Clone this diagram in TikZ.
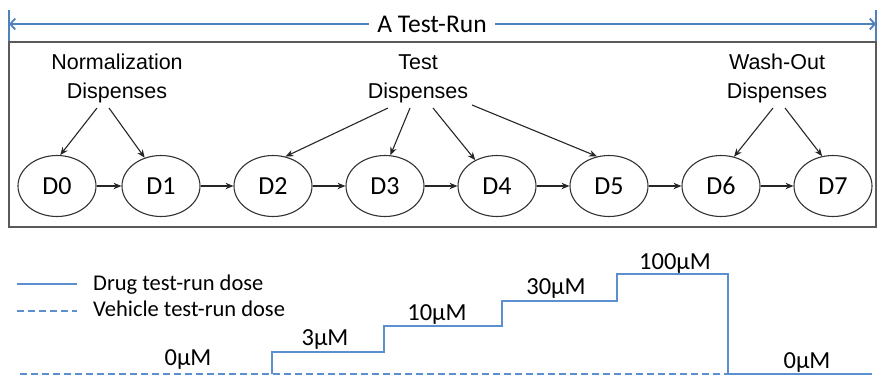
\documentclass[tikz,border=0pt]{standalone}
\usepackage{fontspec}
\setmainfont{Carlito}
\newfontfamily\arialf{Liberation Sans}
\usetikzlibrary{shapes.geometric,arrows.meta}
\definecolor{runblue}{HTML}{4F81BD}
\definecolor{doseblue}{HTML}{5B8FD0}
\definecolor{boxgray}{HTML}{5A5A5A}
\begin{document}
\begin{tikzpicture}[x=1pt,y=-1pt,
  dnode/.style={ellipse,draw=black!80,line width=1.1pt,minimum width=78pt,minimum height=61pt,inner sep=0pt,font=\fontsize{26}{26}\selectfont},
  grp/.style={inner sep=0pt,anchor=base,font=\arialf\fontsize{21.5}{21.5}\selectfont},
  flow/.style={-{Stealth[length=8pt,width=6.5pt]},line width=1.1pt,black!85},
  runline/.style={runblue,line width=1.8pt},
  runarrow/.style={runline,-{Straight Barb[length=5pt,width=11pt,line width=1.8pt]}},
  dosetxt/.style={inner sep=0pt,anchor=base,font=\fontsize{24.5}{24.5}\selectfont},
  legtxt/.style={inner sep=0pt,anchor=base west,font=\fontsize{22.5}{22.5}\selectfont},
  drug/.style={doseblue,line width=1.6pt},
  vehicle/.style={doseblue,line width=1.6pt,dash pattern=on 7pt off 4pt}]
\useasboundingbox (0,0) rectangle (881,376);

% title arrow
\node[inner sep=0pt,font=\fontsize{25.5}{25.5}\selectfont] (title) at (432,24) {A Test-Run};
\coordinate (tl) at (9,24);
\coordinate (tr) at (876,24);
\draw[runline] (9,10) -- (9,42);
\draw[runline] (876,10) -- (876,42);
\draw[runarrow] ([xshift=-8pt]title.west) -- (tl);
\draw[runarrow] ([xshift=8pt]title.east) -- (tr);

% box
\draw[boxgray,line width=2pt] (9,42) rectangle (876,227);

% group labels
\node[grp] (normA) at (117,69) {Normalization};
\node[grp] (norm) at (117,98) {Dispenses};
\node[grp] (testA) at (418,69) {Test};
\node[grp] (test) at (418,98) {Dispenses};
\node[grp] (washA) at (777,69) {Wash-Out};
\node[grp] (wash) at (777,98) {Dispenses};

% dispense nodes
\node[dnode] (D0) at (57,186) {D0};
\node[dnode] (D1) at (161,186) {D1};
\node[dnode] (D2) at (273,186) {D2};
\node[dnode] (D3) at (385,186) {D3};
\node[dnode] (D4) at (497,186) {D4};
\node[dnode] (D5) at (609,186) {D5};
\node[dnode] (D6) at (721,186) {D6};
\node[dnode] (D7) at (833,186) {D7};

\foreach \a/\b in {D0/D1,D1/D2,D2/D3,D3/D4,D4/D5,D5/D6,D6/D7}
  \draw[flow] (\a.east) -- (\b.west);

% group arrows
\draw[flow] ([xshift=-20pt,yshift=-10pt]norm.base) -- (D0.84);
\draw[flow] ([xshift=-8pt,yshift=-10pt]norm.base) -- (D1.120);
\draw[flow] ([xshift=-30pt,yshift=-10pt]test.base) -- (D2.67);
\draw[flow] ([xshift=-8pt,yshift=-10pt]test.base) -- (D3.80);
\draw[flow] ([xshift=15pt,yshift=-10pt]test.base) -- (D4.130);
\draw[flow] ([xshift=54pt,yshift=-7pt]test.base) -- (D5.112);
\draw[flow] ([xshift=-4pt,yshift=-10pt]wash.base) -- (D6.66);
\draw[flow] ([xshift=8pt,yshift=-10pt]wash.base) -- (D7.110);

% legend
\coordinate (l1a) at (17,284);
\coordinate (l1b) at (77,284);
\coordinate (l2a) at (17,311);
\coordinate (l2b) at (77,311);
\draw[drug] (l1a) -- (l1b);
\draw[vehicle] (l2a) -- (l2b);
\node[legtxt] (legdrug) at (93,290) {Drug test-run dose};
\node[legtxt] (legveh) at (93,316) {Vehicle test-run dose};

% dose profile
\draw[vehicle] (20,374) -- (872,374);
\draw[drug] (272,374) -- (272,352) -- (384,352) -- (384,326) -- (502,326) -- (502,301)
  -- (617,301) -- (617,274) -- (728,274) -- (728,374) -- (872,374);

\node[dosetxt] (c0) at (188,365) {0µM};
\node[dosetxt] (c3) at (325,345) {3µM};
\node[dosetxt] (c10) at (437,320) {10µM};
\node[dosetxt] (c30) at (556,294) {30µM};
\node[dosetxt] (c100) at (675,269) {100µM};
\node[dosetxt] (c0b) at (807,368) {0µM};
\end{tikzpicture}
\end{document}
